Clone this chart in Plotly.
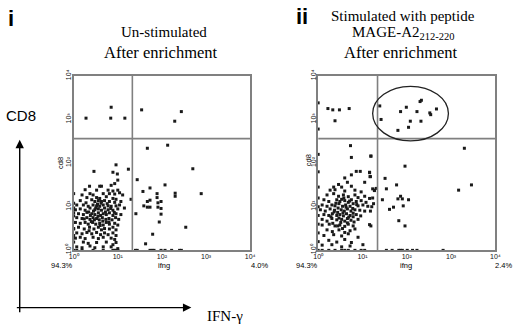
import plotly.graph_objects as go

# ---------------- data (log10 fluorescence decades) ----------------
DECADES = [0, 1, 2, 3, 4]
TICK_TEXT = ["10⁰", "10¹", "10²", "10³", "10⁴"]

# Panel i : un-stimulated (x = IFN-g decade, y = CD8 decade)
unstim_low_left = [
    (.96, 1.96), (.46, 1.81), (.89, 1.79), (.99, 1.75), (1.24, 1.86), (1.00, 1.61), (.93, 1.53),
    (.36, 1.47), (.59, 1.47), (.63, 1.47), (.85, 1.49), (.26, 1.39), (.52, 1.38), (.78, 1.38),
    (.89, 1.36), (1.00, 1.38), (1.04, 1.32), (.19, 1.27), (.37, 1.30), (.44, 1.27), (.67, 1.30),
    (.81, 1.30), (.93, 1.29), (1.11, 1.27), (.30, 1.21), (.52, 1.21), (.59, 1.19), (.74, 1.23),
    (.89, 1.19), (.96, 1.17), (.15, 1.14), (.41, 1.16), (.48, 1.12), (.56, 1.14), (.63, 1.12),
    (.70, 1.14), (.81, 1.12), (.93, 1.10), (1.07, 1.12), (1.30, 1.17), (.07, 1.04), (.22, 1.04),
    (.33, 1.01), (.44, 1.04), (.52, 1.02), (.59, 1.01), (.67, 1.04), (.78, 1.02), (.85, 1.01),
    (.96, 1.02), (1.04, 1.04), (.04, .93), (.15, .95), (.26, .92), (.37, .97), (.48, .93),
    (.56, .95), (.63, .92), (.70, .97), (.78, .93), (.89, .92), (1.00, .95), (1.15, .97),
    (.11, .84), (.22, .82), (.30, .87), (.41, .84), (.48, .82), (.56, .86), (.61, .80),
    (.67, .84), (.74, .82), (.81, .86), (.89, .80), (.96, .84), (1.07, .82), (.07, .75),
    (.19, .73), (.30, .75), (.37, .71), (.44, .75), (.52, .73), (.58, .70), (.65, .75),
    (.73, .71), (.80, .73), (.87, .70), (.95, .75), (1.02, .71), (.04, .64), (.15, .62),
    (.26, .64), (.33, .60), (.43, .64), (.50, .60), (.59, .62), (.67, .58), (.74, .64),
    (.81, .60), (.93, .62), (1.00, .58), (.11, .53), (.24, .49), (.36, .53), (.46, .49),
    (.56, .53), (.63, .47), (.70, .50), (.81, .49), (.89, .53), (.96, .47), (.07, .40),
    (.19, .38), (.30, .41), (.41, .38), (.52, .41), (.61, .36), (.70, .40), (.78, .36),
    (.89, .40), (.96, .34), (.04, .28), (.15, .30), (.26, .27), (.44, .30), (.56, .27),
    (.67, .30), (.85, .28), (.93, .25), (.22, .19), (.33, .16), (.52, .18), (.74, .19),
    (.89, .13), (.96, .18), (.07, .08), (.19, .06), (.37, .10), (.48, .06), (.67, .08),
    (.85, .08), (1.00, .04), (.34, .88), (.45, .90), (.55, .78), (.62, 1.08), (.40, .66),
    (.72, .88), (.28, 1.09), (.50, .97), (.66, .67), (.84, .96), (.38, .80), (.60, .57),
    (.76, 1.07), (.47, .70), (.54, 1.06), (.24, .72), (.80, .65), (.92, .87), (.35, .45),
    (0, 1.30), (0, 1.08), (0, .97), (0, .86), (0, .79), (0, .64), (0, .50), (0, .49),
    (0, .34), (0, .19), (0, 0), (.07, 0), (.19, 0), (.44, 0), (.67, 0), (.89, 0), (.93, 0),
    (.96, 0), (1.00, 0),
]
unstim_low_right = [
    (2.13, 2.41), (1.67, 2.34), (2.70, 1.87), (1.44, 1.62), (2.07, 1.50), (1.73, 1.43),
    (1.57, 1.35), (1.89, 1.30), (2.30, 1.31), (2.30, 1.24), (2.89, 1.30), (1.89, 1.21),
    (1.73, 1.15), (1.67, 1.12), (1.98, 1.12), (1.91, 1.09), (1.59, 1.02), (1.67, .99),
    (1.73, .99), (1.91, .99), (1.98, .96), (1.41, .84), (1.98, .83), (1.94, .65), (2.54, .53),
    (1.79, .37), (1.63, .15), (1.40, 0), (1.44, 0), (1.73, 0), (1.78, 0), (1.82, 0), (1.98, 0),
    (2.07, 0), (2.22, 0), (2.40, 0), (2.44, 0),
]
unstim_upper = [
    (.28, 3.03), (.85, 3.28), (.84, 3.03), (1.16, 3.03), (1.54, 3.22), (2.44, 3.18), (2.29, 2.96),
]

# Panel ii : stimulated with MAGE-A2 212-220 peptide
stim_low_left = [
    (.73, 2.40), (.75, 2.13), (1.19, 2.16), (.75, 1.73), (.86, 1.81), (.95, 1.81), (1.16, 1.79),
    (1.17, 1.69), (.60, 1.66), (.66, 1.56), (1.05, 1.56), (.46, 1.51), (.35, 1.45), (.53, 1.45),
    (.75, 1.47), (.27, 1.38), (.38, 1.39), (.60, 1.36), (.83, 1.38), (.97, 1.34), (1.23, 1.41),
    (1.27, 1.38), (.20, 1.27), (.35, 1.30), (.46, 1.24), (.57, 1.27), (.68, 1.23), (.83, 1.27),
    (.90, 1.21), (1.05, 1.24), (1.16, 1.19), (.13, 1.16), (.24, 1.12), (.42, 1.16), (.49, 1.12),
    (.53, 1.17), (.60, 1.14), (.68, 1.10), (.75, 1.16), (.86, 1.12), (.97, 1.14), (1.08, 1.10),
    (.09, 1.04), (.20, 1.01), (.31, 1.04), (.38, 1.02), (.47, 1.07), (.55, 1.01), (.62, 1.04),
    (.72, 1.01), (.79, 1.07), (.90, 1.02), (1.01, 1.04), (1.12, 1.01), (.05, .93), (.16, .90),
    (.27, .95), (.37, .92), (.44, .87), (.52, .93), (.59, .90), (.66, .95), (.74, .90),
    (.83, .93), (.94, .92), (1.05, .90), (.13, .82), (.24, .80), (.32, .84), (.42, .80),
    (.49, .82), (.57, .79), (.64, .84), (.72, .80), (.79, .77), (.86, .82), (.96, .79),
    (.09, .71), (.20, .67), (.31, .73), (.42, .70), (.53, .71), (.60, .67), (.66, .73),
    (.74, .69), (.81, .65), (.90, .71), (.09, .58), (.25, .60), (.38, .56), (.49, .58),
    (.60, .55), (.68, .60), (.79, .56), (.20, .47), (.32, .43), (.47, .47), (.60, .41),
    (.72, .45), (.83, .49), (.13, .34), (.35, .36), (.53, .33), (.68, .38), (.90, .30),
    (.24, .23), (.42, .19), (.60, .25), (.75, .18), (.09, .12), (.31, .13), (.53, .08),
    (.72, .10), (1.01, .13), (.45, .97), (.56, .86), (.69, .76), (.36, .88), (.51, .64),
    (.63, .99), (.79, .85), (.40, 1.08), (.58, 1.20), (.71, 1.13), (.29, .77), (.47, .74),
    (.66, .63), (.87, 1.05), (.55, .50), (.33, .62), (.78, .96), (.44, .56),
    (1.19, 2.16), (1.16, 1.78), (1.18, 1.69), (1.27, 1.37), (1.31, 1.42), (1.23, 1.20),
    (1.25, 1.07), (1.21, 1.00), (1.18, .90), (1.16, .59), (1.19, .56),
    (0, 3.38), (0, 2.78), (0, 2.20), (0, 1.80), (0, 1.45), (0, 1.20), (0, 1.00), (0, .80),
    (0, .60), (0, .40), (0, .20), (0, 0), (.09, 0), (.24, 0), (.38, 0), (.53, 0), (.60, 0),
    (.68, 0), (.83, 0), (.97, 0), (1.05, 0),
]
stim_low_right = [
    (3.30, 2.34), (1.96, 1.93), (1.51, 1.65), (1.77, 1.50), (1.54, 1.41), (3.17, 1.38),
    (3.46, 1.50), (1.45, 1.16), (1.80, 1.18), (1.86, 1.24), (1.90, 1.18), (2.04, 1.16),
    (1.92, 1.02), (1.70, .99), (1.61, .94), (1.82, .68), (1.96, .56), (1.54, 0), (1.67, 0),
    (1.82, 0), (1.86, 0), (1.90, 0), (2.01, 0), (2.13, 0), (2.23, 0), (2.82, 0),
]
stim_upper = [
    (.22, 3.25), (.33, 3.22), (.48, 3.22), (.70, 3.25), (.38, 2.97),
    (1.39, 3.31), (1.42, 3.00), (1.86, 3.18), (1.99, 3.28), (2.08, 2.96), (2.04, 2.82),
    (1.80, 2.75), (2.23, 3.18), (2.30, 3.41), (2.33, 3.44), (2.32, 2.96), (2.52, 3.15),
    (2.54, 3.11), (2.67, 3.24),
]

gates_unstim = (1.33, 2.56)          # (IFN-g gate, CD8 gate)
gates_stim = (1.34, 2.56)
ellipse_stim = (1.23, 2.94, 2.51, 3.76)  # x0, x1, y0, y1 (decades)
pct_unstim = ("94.3%", "4.0%")
pct_stim = ("94.3%", "2.4%")

# ---------------- figure ----------------
W, H = 520, 330


def fx(p):
    return p / W


def fy(p):
    return 1 - p / H


fig = go.Figure()

panels = [
    (unstim_low_left + unstim_low_right + unstim_upper, "x", "y"),
    (stim_low_left + stim_low_right + stim_upper, "x2", "y2"),
]
for pts, xa, ya in panels:
    fig.add_trace(go.Scatter(
        x=[p[0] for p in pts], y=[p[1] for p in pts], mode="markers",
        marker=dict(symbol="square", size=3, color="#1a1a1a", line=dict(width=0)),
        cliponaxis=False, xaxis=xa, yaxis=ya, showlegend=False, hoverinfo="skip"))

axis_common = dict(
    range=[0, 4], tickmode="array", tickvals=DECADES, ticktext=TICK_TEXT,
    showgrid=False, zeroline=False, showline=True, mirror=True,
    linecolor="#808080", linewidth=1.6, ticks="", ticklabelstandoff=-2,
    tickfont=dict(family="Liberation Sans", size=7, color="#111111"),
)

ydom = [fy(252), fy(72)]
fig.update_layout(
    width=W, height=H, margin=dict(l=0, r=0, t=0, b=0),
    paper_bgcolor="white", plot_bgcolor="white",
    xaxis=dict(domain=[fx(70), fx(250)], anchor="y", **axis_common),
    yaxis=dict(domain=ydom, anchor="x", tickangle=-90, **axis_common),
    xaxis2=dict(domain=[fx(319.3), fx(500)], anchor="y2", **axis_common),
    yaxis2=dict(domain=ydom, anchor="x2", tickangle=-90, **axis_common),
)

gate_line = dict(color="#808080", width=1.6)
for (gx, gy), xr, yr in [(gates_unstim, "x", "y"), (gates_stim, "x2", "y2")]:
    fig.add_shape(type="line", xref=xr, yref=yr, x0=gx, x1=gx, y0=0, y1=4, line=gate_line)
    fig.add_shape(type="line", xref=xr, yref=yr, x0=0, x1=4, y0=gy, y1=gy, line=gate_line)

ex0, ex1, ey0, ey1 = ellipse_stim
fig.add_shape(type="circle", xref="x2", yref="y2", x0=ex0, x1=ex1, y0=ey0, y1=ey1,
              line=dict(color="#222222", width=1.3))

serif = "Liberation Serif"
sans = "Liberation Sans"


def ann(text, x, y, size, family, **kw):
    fig.add_annotation(text=text, x=fx(x), y=fy(y), xref="paper", yref="paper",
                       showarrow=False, font=dict(size=size, family=family, color="black"),
                       xanchor=kw.pop("xanchor", "center"), yanchor=kw.pop("yanchor", "middle"), **kw)


ann("<b>i</b>", 6, 13, 22, sans)
ann("<b>ii</b>", 303, 11, 22, sans)
ann("Un-stimulated", 162, 27, 15, serif)
ann("After enrichment", 159, 48, 16.5, serif)
ann("Stimulated with peptide", 406, 10, 15, serif)
ann("MAGE-A2<sub>212-220</sub>", 406, 28, 15, serif)
ann("After enrichment", 404, 48, 16.5, serif)
ann("CD8", 16, 113, 15, sans)
ann("IFN-γ", 224, 320, 15, serif)

small = 7.5
ann("ifng", 162, 268, small, sans)
ann(pct_unstim[0], 58, 268, small, sans)
ann(pct_unstim[1], 259, 268, small, sans)
ann("cd8", 56, 162, small, sans, textangle=-90)
ann("ifng", 409, 268, small, sans)
ann(pct_stim[0], 308, 268, small, sans)
ann(pct_stim[1], 519, 268, small, sans, xanchor="right")
ann("cd8", 309, 159, small, sans, textangle=-90)

# axes arrows (CD8 up, IFN-g right)
fig.add_annotation(x=fx(15), y=fy(138), xref="paper", yref="paper", text="", showarrow=True,
                   ax=0, ay=174, arrowhead=2, arrowsize=1.2, arrowwidth=1.4, arrowcolor="black")
fig.add_annotation(x=fx(190), y=fy(311), xref="paper", yref="paper", text="", showarrow=True,
                   ax=-176, ay=0, arrowhead=2, arrowsize=1.2, arrowwidth=1.4, arrowcolor="black")

fig.write_html("out.html", config={"displayModeBar": False},
               post_script="document.body.style.margin='0px';")
